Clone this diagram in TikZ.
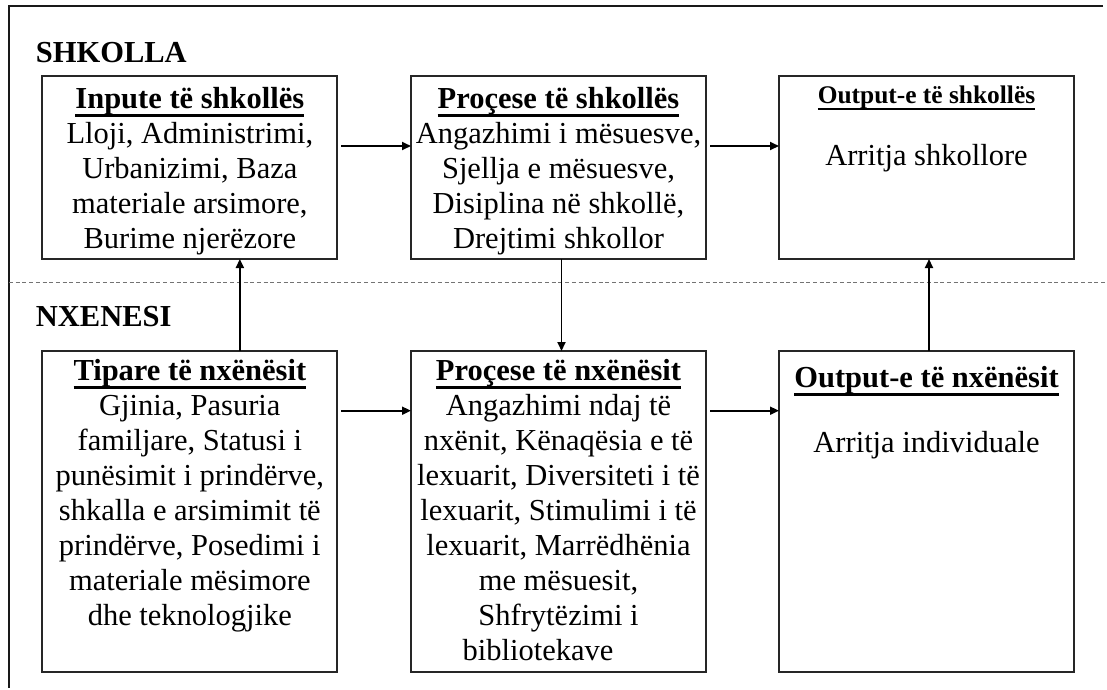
\documentclass[tikz,border=0pt]{standalone}
\usepackage{fontspec}
\setmainfont{Liberation Serif}
\usetikzlibrary{arrows.meta}
\newsavebox\hdbox
\newcommand{\hdul}[1]{\sbox\hdbox{#1}\rlap{\rule[-8.5pt]{\wd\hdbox}{2.4pt}}\usebox\hdbox}
\newcommand{\hdulsm}[1]{\sbox\hdbox{#1}\rlap{\rule[-7pt]{\wd\hdbox}{2.1pt}}\usebox\hdbox}
\tikzset{
  box/.style={draw=black!85, line width=1.8pt, minimum width=295pt, inner sep=0pt, outer sep=0pt},
  hd/.style={anchor=base, inner sep=0pt, font=\fontsize{30.5}{35}\selectfont\bfseries},
  hdsm/.style={anchor=base, inner sep=0pt, font=\fontsize{25.4}{30}\selectfont\bfseries},
  bd/.style={anchor=base, inner sep=0pt, font=\fontsize{30.5}{35}\selectfont},
  lbl/.style={anchor=base west, inner sep=0pt, font=\fontsize{30.5}{35}\selectfont\bfseries},
  arr/.style={line width=1.8pt, -{Triangle[length=9pt,width=8pt]}},
  frame/.style={line width=1.8pt, black!90},
  sep/.style={line width=1.2pt, black!55, dash pattern=on 4pt off 2.7pt}
}
\begin{document}
\begin{tikzpicture}[x=1pt,y=-1pt]
\path[use as bounding box, fill=white] (0,0) rectangle (1107,689);
% frame
\coordinate (ftr) at (1103,6);
\coordinate (ftl) at (9,6);
\coordinate (fbl) at (9,688);
\draw[frame] (ftr) -- (ftl) -- (fbl);
% separator
\coordinate (dl) at (9,282.5);
\coordinate (dr) at (1107,282.5);
\draw[sep] (dl) -- (dr);
% section labels
\node[lbl] (shk) at (35.7,62) {SHKOLLA};
\node[lbl] (nxe) at (35.7,326.7) {NXENESI};
% boxes
\node[box, minimum height=183pt] (b1) at (189.85,167.5) {};
\node[box, minimum height=183pt] (b2) at (558.5,167.5) {};
\node[box, minimum height=183pt] (b3) at (926.5,167.5) {};
\node[box, minimum height=321pt] (b4) at (189.85,511.5) {};
\node[box, minimum height=321pt] (b5) at (558.5,511.5) {};
\node[box, minimum height=321pt] (b6) at (926.5,511.5) {};
% headings
\node[hd] (h1) at (189.85,108) {\hdul{Inpute të shkollës}};
\node[hd] (h2) at (558.5,108) {\hdul{Proçese të shkollës}};
\node[hdsm] (h3) at (926.5,103.3) {\hdulsm{Output-e të shkollës}};
\node[hd] (h4) at (189.85,380) {\hdul{Tipare të nxënësit}};
\node[hd] (h5) at (558.5,380) {\hdul{Proçese të nxënësit}};
\node[hd] (h6) at (926.5,387) {\hdul{Output-e të nxënësit}};
% bodies
\node[bd] (t1) at (189.85,143) {\parbox[t]{300pt}{\centering Lloji, Administrimi,\\ Urbanizimi, Baza\\ materiale arsimore,\\ Burime njerëzore}};
\node[bd] (t2) at (558.5,143) {\parbox[t]{300pt}{\centering Angazhimi i mësuesve,\\ Sjellja e mësuesve,\\ Disiplina në shkollë,\\ Drejtimi shkollor}};
\node[bd] (t3) at (926.5,165) {Arritja shkollore};
\node[bd] (t4) at (189.85,415) {\parbox[t]{300pt}{\centering Gjinia, Pasuria\\ familjare, Statusi i\\ punësimit i prindërve,\\ shkalla e arsimimit të\\ prindërve, Posedimi i\\ materiale mësimore\\ dhe teknologjike}};
\node[bd] (t5) at (558.5,415) {\parbox[t]{300pt}{\centering Angazhimi ndaj të\\ nxënit, Kënaqësia e të\\ lexuarit, Diversiteti i të\\ lexuarit, Stimulimi i të\\ lexuarit, Marrëdhënia\\ me mësuesit,\hspace*{23pt}\\ Shfrytëzimi i\hspace*{46pt}\\ bibliotekave\hspace*{41pt}}};
\node[bd] (t6) at (926.5,452) {Arritja individuale};
% connectors
\draw[arr] ([shift={(4pt,21.5pt)}]b1.east) -- ([yshift=21.5pt]b2.west);
\draw[arr] ([shift={(4pt,21.5pt)}]b2.east) -- ([yshift=21.5pt]b3.west);
\draw[arr] ([shift={(4pt,100.8pt)}]b4.east) -- ([yshift=100.8pt]b5.west);
\draw[arr] ([shift={(4pt,100.8pt)}]b5.east) -- ([yshift=100.8pt]b6.west);
\draw[arr] ([xshift=50pt]b4.north) -- ([xshift=50pt]b1.south);
\draw[arr] ([xshift=3pt]b2.south) -- ([xshift=3pt]b5.north);
\draw[arr] ([xshift=2.5pt]b6.north) -- ([xshift=2.5pt]b3.south);
\end{tikzpicture}
\end{document}
